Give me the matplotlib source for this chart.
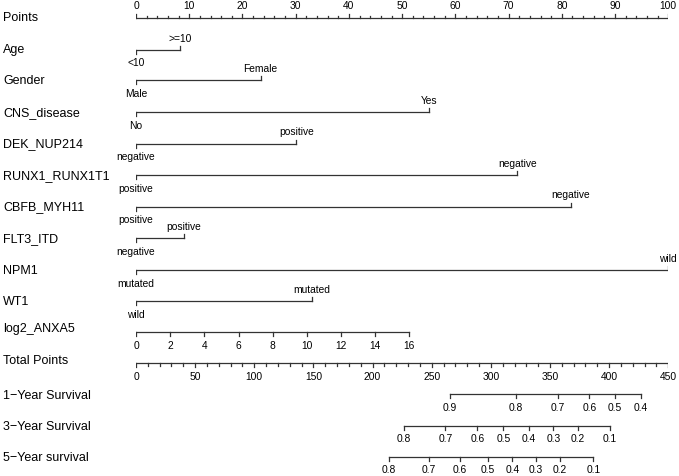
import numpy as np
import matplotlib.pyplot as plt

plt.rcParams['font.family'] = ['Liberation Sans', 'DejaVu Sans']

# nomogram variables: level names and their points (0-100 scale)
age_levels = ['<10', '>=10']
age_pts = [0, 8.3]
gender_levels = ['Male', 'Female']
gender_pts = [0, 23.4]
cns_levels = ['No', 'Yes']
cns_pts = [0, 55.0]
dek_levels = ['negative', 'positive']
dek_pts = [0, 30.1]
runx1_levels = ['positive', 'negative']
runx1_pts = [0, 71.6]
cbfb_levels = ['positive', 'negative']
cbfb_pts = [0, 81.7]
flt3_levels = ['negative', 'positive']
flt3_pts = [0, 9.0]
npm1_levels = ['mutated', 'wild']
npm1_pts = [0, 100.0]
wt1_levels = ['wild', 'mutated']
wt1_pts = [0, 33.0]

anxa5_vals = [0, 2, 4, 6, 8, 10, 12, 14, 16]
anxa5_max_pts = 51.35  # points at log2_ANXA5 = 16

total_max = 450
surv1_labels = ['0.9', '0.8', '0.7', '0.6', '0.5', '0.4']
surv1_tp = [265.4, 321.2, 356.5, 383.2, 404.9, 426.9]
surv3_labels = ['0.8', '0.7', '0.6', '0.5', '0.4', '0.3', '0.2', '0.1']
surv3_tp = [226.5, 261.5, 288.5, 310.5, 332.0, 352.8, 373.4, 400.7]
surv5_labels = ['0.8', '0.7', '0.6', '0.5', '0.4', '0.3', '0.2', '0.1']
surv5_tp = [213.9, 247.9, 273.9, 297.3, 318.1, 338.1, 358.4, 386.6]

W, H = 679, 477
fig = plt.figure(figsize=(W / 100, H / 100), dpi=100)
ax = fig.add_axes([136 / W, 0, 532.3 / W, 1])
ax.set_xlim(0, 100)
ax.set_ylim(H, 0)
ax.axis('off')

lc = '#333333'
lw = 0.9
fs_row = 9
fs_tick = 7.4


def row_label(y, text):
    fig.text(3 / W, 1 - y / H, text, fontsize=fs_row, ha='left', va='center')


def cat_row(y, name, levels, pts):
    row_label(y, name)
    ax.plot([min(pts), max(pts)], [y, y], color=lc, lw=lw)
    for k, (lev, p) in enumerate(zip(levels, pts)):
        if k % 2 == 0:
            ax.plot([p, p], [y, y + 4], color=lc, lw=lw)
            ax.text(p, y + 13, lev, fontsize=fs_tick, ha='center', va='center')
        else:
            ax.plot([p, p], [y, y - 4], color=lc, lw=lw)
            ax.text(p, y - 12, lev, fontsize=fs_tick, ha='center', va='center')


# Points axis
y = 19
row_label(18, 'Points')
ax.plot([0, 100], [y, y], color=lc, lw=lw)
for v in np.arange(0, 101, 2):
    tl = 4 if v % 10 == 0 else 2
    ax.plot([v, v], [y, y - tl], color=lc, lw=lw)
for v in range(0, 101, 10):
    ax.text(v, 6, str(v), fontsize=fs_tick, ha='center', va='center')

cat_row(50.5, 'Age', age_levels, age_pts)
cat_row(81, 'Gender', gender_levels, gender_pts)
cat_row(113, 'CNS_disease', cns_levels, cns_pts)
cat_row(144.5, 'DEK_NUP214', dek_levels, dek_pts)
cat_row(176, 'RUNX1_RUNX1T1', runx1_levels, runx1_pts)
cat_row(207.5, 'CBFB_MYH11', cbfb_levels, cbfb_pts)
cat_row(239, 'FLT3_ITD', flt3_levels, flt3_pts)
cat_row(271, 'NPM1', npm1_levels, npm1_pts)
cat_row(302, 'WT1', wt1_levels, wt1_pts)

# log2_ANXA5 continuous axis
y = 333
row_label(329, 'log2_ANXA5')
ax_pts = [v / max(anxa5_vals) * anxa5_max_pts for v in anxa5_vals]
ax.plot([ax_pts[0], ax_pts[-1]], [y, y], color=lc, lw=lw)
for v, p in zip(anxa5_vals, ax_pts):
    ax.plot([p, p], [y, y + 4], color=lc, lw=lw)
    ax.text(p, y + 13, str(v), fontsize=fs_tick, ha='center', va='center')

# Total points axis
y = 364
row_label(361, 'Total Points')
sc = 100 / total_max
ax.plot([0, 100], [y, y], color=lc, lw=lw)
for v in range(0, total_max + 1, 10):
    ax.plot([v * sc, v * sc], [y, y + (4 if v % 50 == 0 else 3)], color=lc, lw=lw)
for v in range(0, total_max + 1, 50):
    ax.text(v * sc, y + 13, str(v), fontsize=fs_tick, ha='center', va='center')


def surv_row(y, name, labels, tp):
    row_label(y + 1, name)
    xs = [t * sc for t in tp]
    ax.plot([xs[0], xs[-1]], [y, y], color=lc, lw=lw)
    for lab, xv in zip(labels, xs):
        ax.plot([xv, xv], [y, y + 4], color=lc, lw=lw)
        ax.text(xv, y + 13, lab, fontsize=fs_tick, ha='center', va='center')


surv_row(395, '1\u2212Year Survival', surv1_labels, surv1_tp)
surv_row(426.5, '3\u2212Year Survival', surv3_labels, surv3_tp)
surv_row(457.5, '5\u2212Year survival', surv5_labels, surv5_tp)

fig.savefig('out.png', dpi=100)
